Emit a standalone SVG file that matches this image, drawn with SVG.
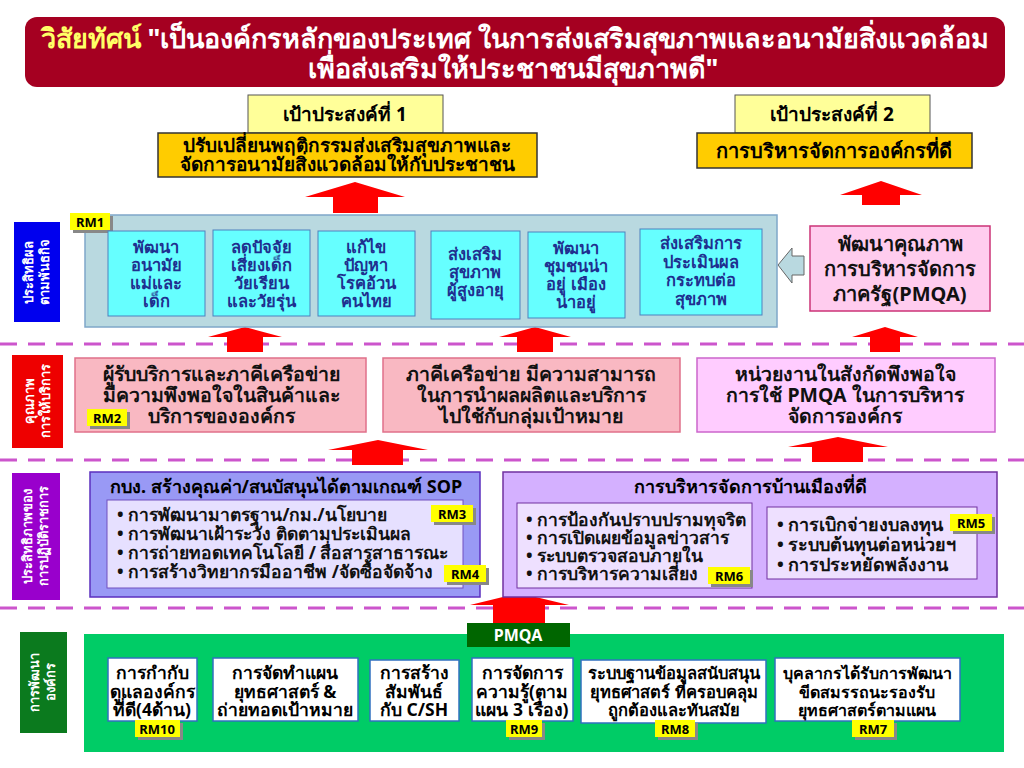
<svg xmlns="http://www.w3.org/2000/svg" width="1024" height="768" viewBox="0 0 1024 768">
<defs>
<style>
text{font-family:"Noto Sans","DejaVu Sans","Liberation Sans",sans-serif;font-weight:bold;}
.hd{font-size:27px;fill:#fff;text-anchor:middle;}
.g{font-size:19px;fill:#000;text-anchor:middle;}
.t16{font-size:17.5px;fill:#000;text-anchor:middle;}
.t15{font-size:16.5px;fill:#1F2F8F;text-anchor:middle;}
.t18{font-size:20px;fill:#111;text-anchor:middle;}
.t19{font-size:19.5px;fill:#111;text-anchor:middle;}
.bl{font-size:17.5px;fill:#111;}
.vl{font-size:13px;fill:#fff;text-anchor:middle;}
.rm{fill:#FFFF00;}
.rms{fill:#888;}
.rmt{font-size:13px;fill:#000;text-anchor:middle;}
.arr{fill:#FF0000;}
.dash{stroke:#CC55CC;stroke-width:3;stroke-dasharray:17 11;fill:none;}
.cy{fill:#66FFFF;stroke:#4F81BD;stroke-width:1;}
.wb{fill:#fff;stroke:#3070C0;stroke-width:1.5;}
</style>
</defs>
<rect width="1024" height="768" fill="#fff"/>

<g id="connectors">
<line class="dash" x1="0" y1="344" x2="1024" y2="344"/>
<line class="dash" x1="0" y1="460" x2="1024" y2="460"/>
<line class="dash" x1="0" y1="608" x2="1024" y2="608"/>
<polygon class="arr" points="355,182 405,197 378,197 378,213 333,213 333,197 305,197"/>
<polygon class="arr" points="881,181 922,195 900,195 900,205 862,205 862,195 840,195"/>
<polygon class="arr" points="245,327 282,337 263,337 263,352 227,352 227,337 208,337"/>
<polygon class="arr" points="535,327 571,337 553,337 553,352 517,352 517,337 499,337"/>
<polygon class="arr" points="885,327 918,337 900,337 900,352 870,352 870,337 852,337"/>
<polygon class="arr" points="378,440 428,450 403,450 403,465 352,465 352,450 328,450"/>
<polygon class="arr" points="838,437 888,447 863,447 863,462 812,462 812,447 788,447"/>
<polygon class="arr" points="519,593 569,605 545,605 545,624 493,624 493,605 470,605"/>
<polygon points="778,265 792,248 792,256 804,256 804,275 792,275 792,283" fill="#B9D9E0" stroke="#666" stroke-width="1"/>
</g>

<g id="vision">
<rect x="25" y="17" width="980" height="70" rx="12" fill="#A50021"/>
<text class="hd" x="515" y="48"><tspan fill="#FFFF66">วิสัยทัศน์</tspan> "เป็นองค์กรหลักของประเทศ ในการส่งเสริมสุขภาพและอนามัยสิ่งแวดล้อม</text>
<text class="hd" x="513" y="78">เพื่อส่งเสริมให้ประชาชนมีสุขภาพดี"</text>
</g>

<g id="goal1">
<rect x="248" y="95" width="195" height="38" fill="#FFFF99" stroke="#555" stroke-width="1"/>
<text class="g" x="345" y="121">เป้าประสงค์ที่ 1</text>
<rect x="158" y="133" width="379" height="44" fill="#FFCC00" stroke="#333" stroke-width="1.5"/>
<text class="g" x="347" y="152">ปรับเปลี่ยนพฤติกรรมส่งเสริมสุขภาพและ</text>
<text class="g" x="347" y="171">จัดการอนามัยสิ่งแวดล้อมให้กับประชาชน</text>
</g>

<g id="goal2">
<rect x="735" y="95" width="195" height="38" fill="#FFFF99" stroke="#555" stroke-width="1"/>
<text class="g" x="832" y="121">เป้าประสงค์ที่ 2</text>
<rect x="697" y="133" width="275" height="35" fill="#FFCC00" stroke="#333" stroke-width="1.5"/>
<text class="g" x="834" y="158" style="font-size:20px">การบริหารจัดการองค์กรที่ดี</text>
</g>

<g id="label-effectiveness">
<rect x="14" y="222" width="46" height="100" fill="#0000EE"/>
<text class="vl" transform="translate(37,272) rotate(-90)"><tspan x="0" y="-4">ประสิทธิผล</tspan><tspan x="0" y="12">ตามพันธกิจ</tspan></text>
</g>

<g id="rm1-panel">
<rect x="85" y="215" width="692" height="112" fill="#B9D9E0" stroke="#7FA7C9" stroke-width="1.5"/>
<rect class="rms" x="73" y="216" width="40" height="17"/>
<rect class="rm" x="70" y="213" width="40" height="17"/>
<text class="rmt" x="90" y="227">RM1</text>
</g>

<g id="m1">
<rect class="cy" x="108" y="231" width="97" height="85"/>
<text class="t15" x="156" y="253">พัฒนา</text><text class="t15" x="156" y="271">อนามัย</text><text class="t15" x="156" y="289">แม่และ</text><text class="t15" x="156" y="307">เด็ก</text>
</g>
<g id="m2">
<rect class="cy" x="213" y="230" width="97" height="86"/>
<text class="t15" x="261" y="253">ลดปัจจัย</text><text class="t15" x="261" y="271">เสี่ยงเด็ก</text><text class="t15" x="261" y="289">วัยเรียน</text><text class="t15" x="261" y="307">และวัยรุ่น</text>
</g>
<g id="m3">
<rect class="cy" x="318" y="231" width="97" height="85"/>
<text class="t15" x="366" y="253">แก้ไข</text><text class="t15" x="366" y="271">ปัญหา</text><text class="t15" x="366" y="289">โรคอ้วน</text><text class="t15" x="366" y="307">คนไทย</text>
</g>
<g id="m4">
<rect class="cy" x="431" y="231" width="89" height="88"/>
<text class="t15" x="475" y="260">ส่งเสริม</text><text class="t15" x="475" y="278">สุขภาพ</text><text class="t15" x="475" y="296">ผู้สูงอายุ</text>
</g>
<g id="m5">
<rect class="cy" x="528" y="232" width="97" height="86"/>
<text class="t15" x="576" y="254">พัฒนา</text><text class="t15" x="576" y="272">ชุมชนน่า</text><text class="t15" x="576" y="290">อยู่ เมือง</text><text class="t15" x="576" y="308">น่าอยู่</text>
</g>
<g id="m6">
<rect class="cy" x="640" y="229" width="122" height="86"/>
<text class="t15" x="701" y="249">ส่งเสริมการ</text><text class="t15" x="701" y="268">ประเมินผล</text><text class="t15" x="701" y="286">กระทบต่อ</text><text class="t15" x="701" y="305">สุขภาพ</text>
</g>

<g id="pmqa-dev">
<rect x="810" y="226" width="180" height="85" fill="#FFCCEE" stroke="#CC3377" stroke-width="1.5"/>
<text class="t18" x="900" y="251">พัฒนาคุณภาพ</text>
<text class="t18" x="900" y="276">การบริหารจัดการ</text>
<text class="t18" x="900" y="301">ภาครัฐ(PMQA)</text>
</g>

<g id="label-quality">
<rect x="12" y="355" width="51" height="93" fill="#EE0000"/>
<text class="vl" transform="translate(38,401) rotate(-90)"><tspan x="0" y="-4">คุณภาพ</tspan><tspan x="0" y="12">การให้บริการ</tspan></text>
</g>

<g id="q1">
<rect x="75" y="358" width="291" height="74" fill="#F9B8C2" stroke="#E0708A" stroke-width="1.5"/>
<text class="t19" x="221" y="381">ผู้รับบริการและภาคีเครือข่าย</text>
<text class="t19" x="221" y="402">มีความพึงพอใจในสินค้าและ</text>
<text class="t19" x="221" y="423">บริการขององค์กร</text>
<rect class="rms" x="90" y="412" width="40" height="17"/>
<rect class="rm" x="87" y="409" width="40" height="17"/>
<text class="rmt" x="107" y="423">RM2</text>
</g>
<g id="q2">
<rect x="383" y="358" width="297" height="74" fill="#F9B8C2" stroke="#E0708A" stroke-width="1.5"/>
<text class="t19" x="531" y="381">ภาคีเครือข่าย มีความสามารถ</text>
<text class="t19" x="531" y="402">ในการนำผลผลิตและบริการ</text>
<text class="t19" x="531" y="423">ไปใช้กับกลุ่มเป้าหมาย</text>
</g>
<g id="q3">
<rect x="697" y="358" width="298" height="74" fill="#FFCCFF" stroke="#CC66CC" stroke-width="1.5"/>
<text class="t19" x="845" y="381">หน่วยงานในสังกัดพึงพอใจ</text>
<text class="t19" x="845" y="402">การใช้ PMQA ในการบริหาร</text>
<text class="t19" x="845" y="423">จัดการองค์กร</text>
</g>

<g id="label-efficiency">
<rect x="12" y="473" width="48" height="127" fill="#9900CC"/>
<text class="vl" transform="translate(36,536) rotate(-90)"><tspan x="0" y="-4">ประสิทธิภาพของ</tspan><tspan x="0" y="12">การปฏิบัติราชการ</tspan></text>
</g>

<g id="sop">
<rect x="90" y="472" width="390" height="125" fill="#9999F5" stroke="#5B2FBF" stroke-width="1.5"/>
<text class="t16" x="286" y="493" style="font-size:18px">กบง. สร้างคุณค่า/สนบัสนุนได้ตามเกณฑ์ SOP</text>
<rect x="107" y="500" width="356" height="88" fill="#E6E0FF" stroke="#7050C0" stroke-width="1"/>
<text class="bl" x="117" y="521">• การพัฒนามาตรฐาน/กม./นโยบาย</text>
<text class="bl" x="117" y="540">• การพัฒนาเฝ้าระวัง  ติดตามประเมินผล</text>
<text class="bl" x="117" y="559">• การถ่ายทอดเทคโนโลยี / สื่อสารสาธารณะ</text>
<text class="bl" x="117" y="578">• การสร้างวิทยากรมืออาชีพ /จัดซื้อจัดจ้าง</text>
<rect class="rms" x="434" y="508" width="42" height="17"/>
<rect class="rm" x="431" y="505" width="42" height="17"/>
<text class="rmt" x="452" y="519">RM3</text>
<rect class="rms" x="447" y="568" width="42" height="17"/>
<rect class="rm" x="444" y="565" width="42" height="17"/>
<text class="rmt" x="465" y="579">RM4</text>
</g>

<g id="governance">
<rect x="503" y="472" width="494" height="125" fill="#D4B0FF" stroke="#7030A0" stroke-width="1.5"/>
<text class="t16" x="750" y="493" style="font-size:18px">การบริหารจัดการบ้านเมืองที่ดี</text>
<rect x="517" y="503" width="235" height="85" fill="#EEE0FF" stroke="#7030A0" stroke-width="1"/>
<text class="bl" x="526" y="526">• การป้องกันปราบปรามทุจริต</text>
<text class="bl" x="526" y="544">• การเปิดเผยข้อมูลข่าวสาร</text>
<text class="bl" x="526" y="562">• ระบบตรวจสอบภายใน</text>
<text class="bl" x="526" y="580">• การบริหารความเสี่ยง</text>
<rect class="rms" x="711" y="570" width="42" height="17"/>
<rect class="rm" x="708" y="567" width="42" height="17"/>
<text class="rmt" x="729" y="581">RM6</text>
<rect x="767" y="507" width="210" height="72" fill="#EEE0FF" stroke="#7030A0" stroke-width="1"/>
<text class="bl" x="777" y="531" style="font-size:18px">• การเบิกจ่ายงบลงทุน</text>
<text class="bl" x="777" y="551" style="font-size:18px">• ระบบต้นทุนต่อหน่วยฯ</text>
<text class="bl" x="777" y="571" style="font-size:18px">• การประหยัดพลังงาน</text>
<rect class="rms" x="953" y="517" width="42" height="17"/>
<rect class="rm" x="950" y="514" width="42" height="17"/>
<text class="rmt" x="971" y="528">RM5</text>
</g>

<g id="label-org">
<rect x="20" y="632" width="47" height="101" fill="#0B7A1E"/>
<text class="vl" transform="translate(43,682) rotate(-90)"><tspan x="0" y="-4">การพัฒนา</tspan><tspan x="0" y="12">องค์กร</tspan></text>
</g>

<g id="org-panel">
<rect x="84" y="634" width="920" height="118" fill="#00CC66"/>
<rect x="467" y="623" width="103" height="24" fill="#006600"/>
<text x="518" y="641" style="font-size:16px;fill:#fff;text-anchor:middle">PMQA</text>
</g>

<g id="o1">
<rect class="wb" x="108" y="658" width="89" height="63"/>
<text class="t16" x="152" y="679">การกำกับ</text><text class="t16" x="152" y="698">ดูแลองค์กร</text><text class="t16" x="152" y="716">ที่ดี(4ด้าน)</text>
<rect class="rms" x="138" y="723" width="45" height="17"/>
<rect class="rm" x="135" y="720" width="45" height="17"/>
<text class="rmt" x="157" y="734">RM10</text>
</g>
<g id="o2">
<rect class="wb" x="213" y="658" width="145" height="63"/>
<text class="t16" x="285" y="679">การจัดทำแผน</text><text class="t16" x="285" y="698">ยุทธศาสตร์ &amp;</text><text class="t16" x="285" y="716">ถ่ายทอดเป้าหมาย</text>
</g>
<g id="o3">
<rect class="wb" x="370" y="660" width="89" height="61"/>
<text class="t16" x="414" y="679">การสร้าง</text><text class="t16" x="414" y="698">สัมพันธ์</text><text class="t16" x="414" y="716">กับ C/SH</text>
</g>
<g id="o4">
<rect class="wb" x="472" y="658" width="101" height="63"/>
<text class="t16" x="522" y="679">การจัดการ</text><text class="t16" x="522" y="698">ความรู้(ตาม</text><text class="t16" x="522" y="716">แผน 3 เรื่อง)</text>
<rect class="rms" x="509" y="723" width="36" height="17"/>
<rect class="rm" x="506" y="720" width="36" height="17"/>
<text class="rmt" x="524" y="734">RM9</text>
</g>
<g id="o5">
<rect class="wb" x="581" y="660" width="185" height="63"/>
<text class="t16" x="674" y="679" style="font-size:16.5px">ระบบฐานข้อมูลสนับสนุน</text><text class="t16" x="674" y="698" style="font-size:16.5px">ยุทธศาสตร์ ที่ครอบคลุม</text><text class="t16" x="674" y="716" style="font-size:16.5px">ถูกต้องและทันสมัย</text>
<rect class="rms" x="658" y="723" width="40" height="17"/>
<rect class="rm" x="655" y="720" width="40" height="17"/>
<text class="rmt" x="675" y="734">RM8</text>
</g>
<g id="o6">
<rect class="wb" x="775" y="658" width="185" height="63"/>
<text class="t16" x="867" y="679" style="font-size:16px">บุคลากรได้รับการพัฒนา</text><text class="t16" x="867" y="698" style="font-size:16px">ขีดสมรรถนะรองรับ</text><text class="t16" x="867" y="716" style="font-size:16px">ยุทธศาสตร์ตามแผน</text>
<rect class="rms" x="855" y="723" width="42" height="17"/>
<rect class="rm" x="852" y="720" width="42" height="17"/>
<text class="rmt" x="873" y="734">RM7</text>
</g>
</svg>
